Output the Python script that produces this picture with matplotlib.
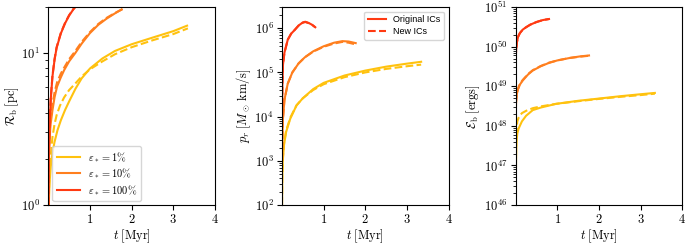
import numpy as np
import matplotlib
matplotlib.use('Agg')
import matplotlib.pyplot as plt
from matplotlib.ticker import FixedLocator, FuncFormatter

plt.rcParams['mathtext.fontset'] = 'cm'

# colours for the three star formation efficiencies
c_low, c_mid, c_high = '#ffc20e', '#ff7f1e', '#ff3a12'

# bubble radius [pc]
t_R_low = [0.012, 0.03, 0.06, 0.1, 0.15, 0.22, 0.3, 0.4, 0.5, 0.65, 0.8, 1.0, 1.3, 1.6, 2.0, 2.5, 3.0, 3.33]
R_low = [1.0, 1.4, 1.8, 2.2, 2.6, 3.1, 3.6, 4.2, 4.8, 5.8, 6.8, 7.9, 9.2, 10.3, 11.4, 12.6, 13.9, 15.1]
t_R_low_new = [0.02, 0.05, 0.1, 0.15, 0.2, 0.28, 0.38, 0.5, 0.65, 0.8, 1.0, 1.3, 1.6, 2.0, 2.5, 3.0, 3.35]
R_low_new = [1.3, 2.0, 2.8, 3.4, 3.9, 4.5, 5.1, 5.7, 6.3, 7.0, 7.8, 8.8, 9.8, 10.9, 12.1, 13.3, 14.5]
t_R_mid = [0.004, 0.02, 0.05, 0.1, 0.15, 0.21, 0.3, 0.38, 0.5, 0.65, 0.8, 1.0, 1.2, 1.4, 1.6, 1.76]
R_mid = [1.0, 2.3, 3.3, 4.2, 5.1, 6.0, 6.9, 7.7, 8.8, 10.0, 11.5, 13.5, 15.3, 16.8, 18.2, 19.3]
t_R_mid_new = [0.004, 0.02, 0.05, 0.1, 0.15, 0.21, 0.3, 0.38, 0.5, 0.65, 0.8, 1.0, 1.2, 1.4, 1.6, 1.78]
R_mid_new = [1.1, 2.5, 3.6, 4.6, 5.5, 6.4, 7.3, 8.0, 9.1, 10.3, 11.8, 13.7, 15.5, 17.0, 18.3, 19.4]
t_R_high = [0.003, 0.015, 0.03, 0.06, 0.1, 0.15, 0.2, 0.3, 0.4, 0.5, 0.6, 0.68]
R_high = [1.0, 2.2, 3.3, 5.0, 7.0, 9.0, 10.8, 13.4, 15.6, 17.6, 19.3, 20.5]
t_R_high_new = [0.003, 0.015, 0.03, 0.06, 0.1, 0.15, 0.2, 0.3, 0.4, 0.5, 0.6, 0.68]
R_high_new = [1.0, 2.3, 3.4, 5.1, 7.1, 9.1, 10.9, 13.5, 15.7, 17.7, 19.4, 20.6]

# radial momentum [Msun km/s]
t_p_low = [0.002, 0.008, 0.02, 0.05, 0.1, 0.2, 0.35, 0.5, 0.75, 1.0, 1.5, 2.0, 2.5, 3.0, 3.34]
p_low = [1e2, 4e2, 1e3, 2.3e3, 4.5e3, 9e3, 1.8e4, 2.6e4, 4.2e4, 5.8e4, 8.5e4, 1.1e5, 1.35e5, 1.58e5, 1.74e5]
p_low_new = [1e2, 4.5e2, 1.1e3, 2.5e3, 4.8e3, 9.5e3, 1.8e4, 2.6e4, 4.0e4, 5.4e4, 7.8e4, 1.0e5, 1.2e5, 1.38e5, 1.5e5]
t_p_mid = [0.003, 0.02, 0.06, 0.14, 0.25, 0.4, 0.55, 0.75, 1.0, 1.25, 1.45, 1.6, 1.77]
p_mid = [1e3, 8e3, 2.4e4, 5.6e4, 1.0e5, 1.6e5, 2.2e5, 3.0e5, 3.9e5, 4.7e5, 5.1e5, 5.0e5, 4.6e5]
p_mid_new = [1e3, 8e3, 2.4e4, 5.6e4, 1.0e5, 1.6e5, 2.2e5, 2.95e5, 3.8e5, 4.5e5, 4.9e5, 4.7e5, 4.3e5]
t_p_high = [0.002, 0.01, 0.025, 0.06, 0.14, 0.22, 0.3, 0.4, 0.5, 0.56, 0.65, 0.72, 0.8]
p_high = [1e4, 5e4, 1.5e5, 2.8e5, 5.5e5, 7.5e5, 9e5, 1.15e6, 1.35e6, 1.4e6, 1.3e6, 1.2e6, 1.05e6]
p_high_new = [1e4, 5e4, 1.5e5, 2.8e5, 5.5e5, 7.5e5, 9e5, 1.15e6, 1.33e6, 1.38e6, 1.3e6, 1.2e6, 1.05e6]

# bubble energy [erg]
t_E_low = [0.004, 0.01, 0.02, 0.04, 0.07, 0.1, 0.15, 0.25, 0.41, 0.6, 0.97, 1.5, 2.0, 2.5, 3.0, 3.34]
E_low = [3e46, 1.5e47, 4e47, 6.5e47, 8.5e47, 1e48, 1.3e48, 1.8e48, 2.5e48, 2.9e48, 3.6e48, 4.3e48, 4.9e48, 5.6e48, 6.3e48, 6.8e48]
t_E_low_new = [0.01, 0.02, 0.04, 0.07, 0.1, 0.15, 0.25, 0.41, 0.6, 0.97, 1.5, 2.0, 2.5, 3.0, 3.34]
E_low_new = [3e47, 8e47, 1.3e48, 1.6e48, 1.8e48, 2.1e48, 2.4e48, 2.8e48, 3.1e48, 3.6e48, 4.2e48, 4.8e48, 5.4e48, 6.0e48, 6.5e48]
t_E_mid = [0.003, 0.01, 0.03, 0.05, 0.1, 0.17, 0.3, 0.41, 0.6, 0.8, 1.0, 1.3, 1.55, 1.76]
E_mid = [2e48, 4e48, 6.5e48, 8e48, 1.1e49, 1.4e49, 2.0e49, 2.5e49, 3.2e49, 3.9e49, 4.5e49, 5.2e49, 5.7e49, 6.0e49]
E_mid_new = [2e48, 4.2e48, 6.8e48, 8.3e48, 1.15e49, 1.45e49, 2.05e49, 2.55e49, 3.25e49, 3.95e49, 4.5e49, 5.2e49, 5.6e49, 5.9e49]
t_E_high = [0.003, 0.01, 0.03, 0.06, 0.1, 0.17, 0.25, 0.35, 0.5, 0.65, 0.8]
E_high = [5e49, 8e49, 1.3e50, 1.8e50, 2.2e50, 2.7e50, 3.1e50, 3.6e50, 4.2e50, 4.7e50, 5.0e50]
E_high_new = [5e49, 8e49, 1.3e50, 1.8e50, 2.2e50, 2.7e50, 3.1e50, 3.6e50, 4.2e50, 4.7e50, 5.0e50]

eff_labels = [r'$\varepsilon_* = 1\%$', r'$\varepsilon_* = 10\%$', r'$\varepsilon_* = 100\%$']

fig = plt.figure(figsize=(6.86, 2.45), dpi=100)
ax1 = fig.add_axes([0.0704, 0.163, 0.243, 0.808])
ax2 = fig.add_axes([0.411, 0.163, 0.243, 0.808])
ax3 = fig.add_axes([0.7517, 0.163, 0.243, 0.808])

lw = 1.5
# radius
ax1.plot(t_R_low, R_low, color=c_low, lw=lw, label=eff_labels[0])
ax1.plot(t_R_low_new, R_low_new, color=c_low, lw=lw, ls='--')
ax1.plot(t_R_mid, R_mid, color=c_mid, lw=lw, label=eff_labels[1])
ax1.plot(t_R_mid_new, R_mid_new, color=c_mid, lw=lw, ls='--')
ax1.plot(t_R_high, R_high, color=c_high, lw=lw, label=eff_labels[2])
ax1.plot(t_R_high_new, R_high_new, color=c_high, lw=lw, ls='--')
ax1.set_ylim(1, 20)
ax1.set_ylabel(r'$\mathcal{R}_{\rm b}\;[\rm pc]$', fontsize=9, labelpad=0)

# momentum
ax2.plot(t_p_low, p_low, color=c_low, lw=lw)
ax2.plot(t_p_low, p_low_new, color=c_low, lw=lw, ls='--')
ax2.plot(t_p_mid, p_mid, color=c_mid, lw=lw)
ax2.plot(t_p_mid, p_mid_new, color=c_mid, lw=lw, ls='--')
ax2.plot(t_p_high, p_high, color=c_high, lw=lw, label='Original ICs')
ax2.plot(t_p_high, p_high_new, color=c_high, lw=lw, ls='--', label='New ICs')
ax2.set_ylim(1e2, 3e6)
ax2.set_ylabel(r'$p_r\;[M_\odot\,\rm km/s]$', fontsize=9, labelpad=1)

# energy
ax3.plot(t_E_low, E_low, color=c_low, lw=lw)
ax3.plot(t_E_low_new, E_low_new, color=c_low, lw=lw, ls='--')
ax3.plot(t_E_mid, E_mid, color=c_mid, lw=lw)
ax3.plot(t_E_mid, E_mid_new, color=c_mid, lw=lw, ls='--')
ax3.plot(t_E_high, E_high, color=c_high, lw=lw)
ax3.plot(t_E_high, E_high_new, color=c_high, lw=lw, ls='--')
ax3.set_ylim(1e46, 1e51)
ax3.set_ylabel(r'$\mathcal{E}_{\rm b}\;[\rm ergs]$', fontsize=9, labelpad=1)

for ax in (ax1, ax2, ax3):
    ax.set_yscale('log')
    ax.set_xlim(0, 4)
    ax.xaxis.set_major_locator(FixedLocator([1, 2, 3, 4]))
    ax.xaxis.set_major_formatter(FuncFormatter(lambda v, pos: r'$%d$' % v))
    ax.yaxis.set_major_formatter(FuncFormatter(lambda v, pos: r'$10^{%d}$' % round(np.log10(v))))
    ax.set_xlabel(r'$t\;[\rm Myr]$', fontsize=9, labelpad=1)
    ax.tick_params(labelsize=9, pad=2.5)

ax1.legend(loc='lower left', fontsize=7.5, handlelength=2.2, labelspacing=0.25,
           borderaxespad=0.4)
ax2.legend(loc='upper right', prop={'family': 'Liberation Sans', 'size': 6.5},
           labelspacing=0.35)

plt.savefig('out.png', dpi=100)
plt.close()
